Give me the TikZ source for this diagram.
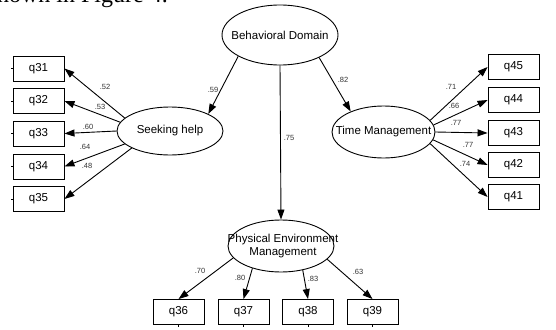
\documentclass[tikz,border=0pt]{standalone}
\usepackage{fontspec}
\setmainfont{Liberation Sans}
\newfontfamily\serifa{Liberation Serif}
\usetikzlibrary{shapes.geometric,arrows.meta}
\begin{document}
\begin{tikzpicture}[x=1pt,y=-1pt,
  lat/.style={ellipse,draw,line width=0.9pt,inner sep=0pt},
  obs/.style={rectangle,draw,line width=0.9pt,minimum width=51pt,minimum height=25pt,inner sep=0pt,font=\fontsize{11.5}{13}\selectfont},
  nm/.style={font=\fontsize{11.5}{13}\selectfont,inner sep=0pt,align=center},
  coef/.style={font=\fontsize{7.5}{9}\selectfont,text=black!80,inner sep=0pt},
  arr/.style={line width=0.9pt,-{Triangle[length=10pt,width=7pt]}},
  tick/.style={line width=0.6pt}]
\useasboundingbox (0,0) rectangle (556,329);
\clip (0,0) rectangle (556,329);
% cropped text line at the top
\node[anchor=base east,inner sep=0pt,font=\serifa\fontsize{24}{28}\selectfont] (top) at (168,3) {shown in Figure 4.};
% latent variables
\node[lat,minimum width=116pt,minimum height=60pt] (bd) at (280,35) {};
\node[nm] (bdt) at (bd) {Behavioral Domain};
\node[lat,minimum width=106pt,minimum height=48pt] (sh) at (170,131) {};
\node[nm] (sht) at (sh) {Seeking help};
\node[lat,minimum width=103pt,minimum height=52pt] (tm) at (383.5,132) {};
\node[nm] (tmt) at (tm) {Time Management};
\node[lat,minimum width=106pt,minimum height=52pt] (pe) at (281,246) {};
\node[nm] (pet) at (283,246) {Physical Environment\\Management};
% observed, left
\foreach \n/\y in {31/68.5,32/101,33/133.5,34/166.5,35/199}{
  \node[obs] (q\n) at (38.5,\y) {q\n};
  \coordinate (t\n) at ([xshift=-2pt]q\n.west);
  \draw[tick] (q\n.west) -- (t\n);
}
% observed, right
\foreach \n/\y in {45/67,44/100,43/133,42/165,41/197}{
  \node[obs] (q\n) at (513.5,\y) {q\n};
}
% observed, bottom
\foreach \n/\x in {36/178.5,37/243.5,38/308,39/372.5}{
  \node[obs] (q\n) at (\x,312) {q\n};
  \coordinate (t\n) at ([yshift=-2pt]q\n.south);
  \draw[tick] (q\n.south) -- (t\n);
}
% structural paths
\draw[arr] (bd.207.6) -- (sh.24.7);
\draw[arr] (bd.-30) -- (tm.148.7);
\draw[arr] (bd.south) -- (pe.north);
\node[coef] (c59) at (213,90) {.59};
\node[coef] (c82) at (343,80) {.82};
\node[coef] (c75) at (289,138) {.75};
% seeking help loadings
\draw[arr] (sh.164) -- (q31.east);
\draw[arr] (sh.170) -- (q32.east);
\draw[arr] (sh.180) -- (q33.east);
\draw[arr] (sh.196) -- (q34.east);
\draw[arr] (sh.204) -- (q35.east);
\node[coef] (c52) at (105,87) {.52};
\node[coef] (c53) at (100,107) {.53};
\node[coef] (c60) at (88,127) {.60};
\node[coef] (c64) at (85,147) {.64};
\node[coef] (c48) at (87,166) {.48};
% time management loadings
\draw[arr] (tm.14.5) -- (q45.west);
\draw[arr] (tm.8) -- (q44.west);
\draw[arr] (tm.0) -- (q43.west);
\draw[arr] (tm.-9) -- (q42.west);
\draw[arr] (tm.-14) -- (q41.west);
\node[coef] (c71) at (451,87) {.71};
\node[coef] (c66) at (454,106) {.66};
\node[coef] (c77a) at (456,123) {.77};
\node[coef] (c77b) at (468,145) {.77};
\node[coef] (c74) at (465,164) {.74};
% physical environment loadings
\draw[arr] (pe.194.6) -- (q36.north);
\draw[arr] (pe.218) -- (q37.north);
\draw[arr] (pe.-48.8) -- (q38.north);
\draw[arr] (pe.-16) -- (q39.north);
\node[coef] (c70) at (200,271) {.70};
\node[coef] (c80) at (240,278) {.80};
\node[coef] (c83) at (313,279) {.83};
\node[coef] (c63) at (358,272) {.63};
\end{tikzpicture}
\end{document}
